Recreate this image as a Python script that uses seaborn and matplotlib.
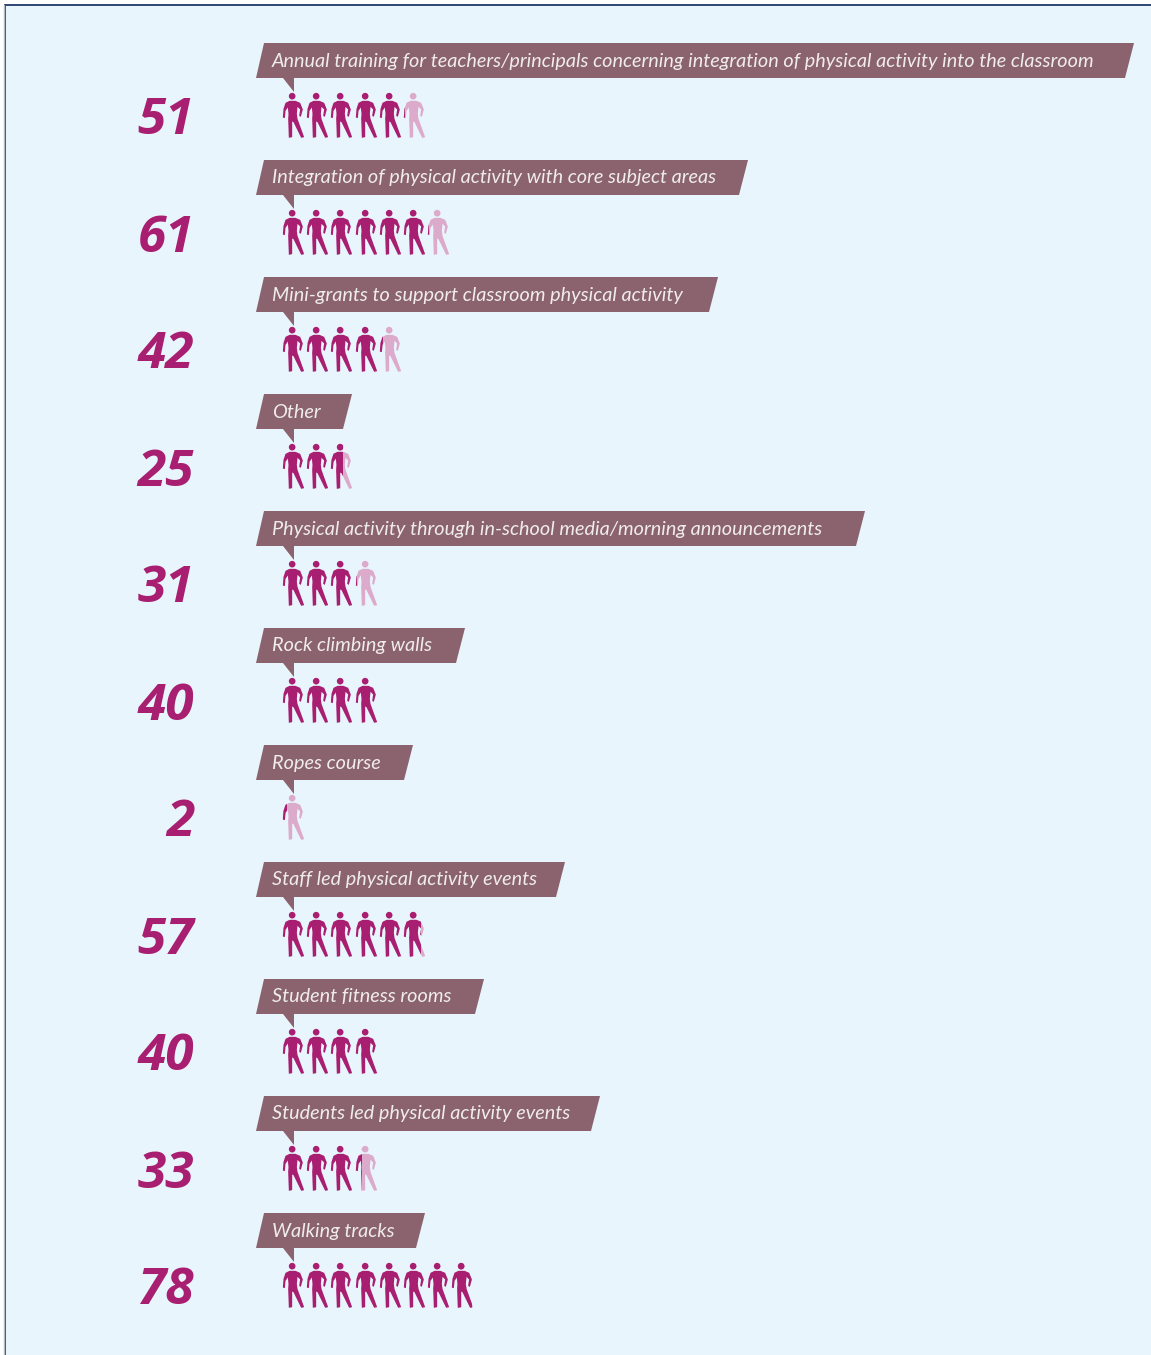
import math
import matplotlib
matplotlib.use("Agg")
import matplotlib.pyplot as plt
import pandas as pd
import seaborn as sns
from matplotlib.patches import Polygon, Rectangle
from matplotlib.path import Path

categories = [
    "Annual training for teachers/principals concerning integration of physical activity into the classroom",
    "Integration of physical activity with core subject areas",
    "Mini-grants to support classroom physical activity",
    "Other",
    "Physical activity through in-school media/morning announcements",
    "Rock climbing walls",
    "Ropes course",
    "Staff led physical activity events",
    "Student fitness rooms",
    "Students led physical activity events",
    "Walking tracks",
]
values = [51, 61, 42, 25, 31, 40, 2, 57, 40, 33, 78]
units_per_figure = 10

# layout (pixels)
banner_right = [1134, 748, 718, 352, 865, 465, 413, 565, 484, 600, 425]
ROW_STEP = 117.0
FIG_X0, FIG_DX, FIG_W, FIG_H = 293.3, 24.1, 20.3, 45.3

DARK, LIGHT = "#a81e70", "#dcaaca"
BANNER, BG, BORDER = "#8a636e", "#e9f5fc", "#1d3768"

sns.set_theme(style="white")
plt.rcParams["font.family"] = ["Lato", "DejaVu Sans"]

# person silhouette, in reference zoom units, centred and scaled to +-1
body_pts = [(58, 46), (76, 46), (90, 52), (98, 72), (92, 94), (87, 91), (90, 72), (82, 64),
            (80, 85), (82, 100), (102, 155), (93, 157), (70, 110), (66, 108), (66, 155),
            (56, 157), (54, 100), (55, 85), (53, 66), (46, 76), (44, 98), (38, 96), (40, 70), (46, 52), (58, 46)]
body = Path([((x - 70) / 68, (90 - y) / 68) for x, y in body_pts], closed=True)
head = Path.circle(((66 - 70) / 68, (90 - 32) / 68), 10 / 68)
person = Path.make_compound_path(body, head)
marker_s = (FIG_H * 0.72) ** 2

fig = plt.figure(figsize=(11.51, 13.55), dpi=100, facecolor="white")
ax = fig.add_axes([0, 0, 1, 1])
ax.set_xlim(0, 1151)
ax.set_ylim(1355, 0)
ax.set_axis_off()

ax.add_patch(Rectangle((5, 4.5), 1160, 1360, facecolor=BG, edgecolor=BORDER, lw=1.3, zorder=0))
ax.plot([3.8, 3.8], [5, 1355], color="#b4bcc8", lw=1, zorder=0)

rows = pd.DataFrame({"category": categories, "value": values})
rows["top"] = [43 + ROW_STEP * i for i in range(len(rows))]

for (_, r), right in zip(rows.iterrows(), banner_right):
    t = r["top"]
    ax.add_patch(Polygon([(264, t), (right, t), (right - 9, t + 35), (294, t + 35), (294, t + 49),
                          (283, t + 35), (256, t + 35)], closed=True, facecolor=BANNER,
                         edgecolor="none", zorder=2))
    ax.text(272, t + 18, r["category"], color="#f0ecee", fontsize=14.3, style="italic",
            fontweight="normal", family=["Lato", "DejaVu Sans"], va="center", ha="left", zorder=3)
    ax.text(194, t + 78.5, str(r["value"]), color=DARK, fontsize=37, style="italic",
            fontweight="bold", family=["Open Sans", "DejaVu Sans"], va="center", ha="right", zorder=3)

    n_full = r["value"] // units_per_figure
    n_all = math.ceil(r["value"] / units_per_figure)
    frac = r["value"] / units_per_figure - n_full
    people = pd.DataFrame({"x": [FIG_X0 + FIG_DX * i for i in range(n_all)],
                           "y": [t + 72] * n_all})
    if frac > 0:
        sns.scatterplot(data=people.iloc[[-1]], x="x", y="y", marker=person, s=marker_s,
                        color=LIGHT, linewidth=0, ax=ax, legend=False, zorder=4)
    sns.scatterplot(data=people, x="x", y="y", marker=person, s=marker_s,
                    color=DARK, linewidth=0, ax=ax, legend=False, zorder=5)
    # partial figures: the dark share reads a little narrower for small remainders
    visible = max(0.0, min(1.0, 1.35 * frac - 0.13)) if frac > 0 else 0.0
    clip_right = FIG_X0 - FIG_W / 2 + FIG_DX * n_full + visible * FIG_W
    ax.collections[-1].set_clip_path(
        Rectangle((270, t + 40), clip_right - 270, 70, transform=ax.transData))

ax.set_xlim(0, 1151)
ax.set_ylim(1355, 0)
ax.set_xlabel("")
ax.set_ylabel("")
fig.savefig("out.png", dpi=100, facecolor="white")
